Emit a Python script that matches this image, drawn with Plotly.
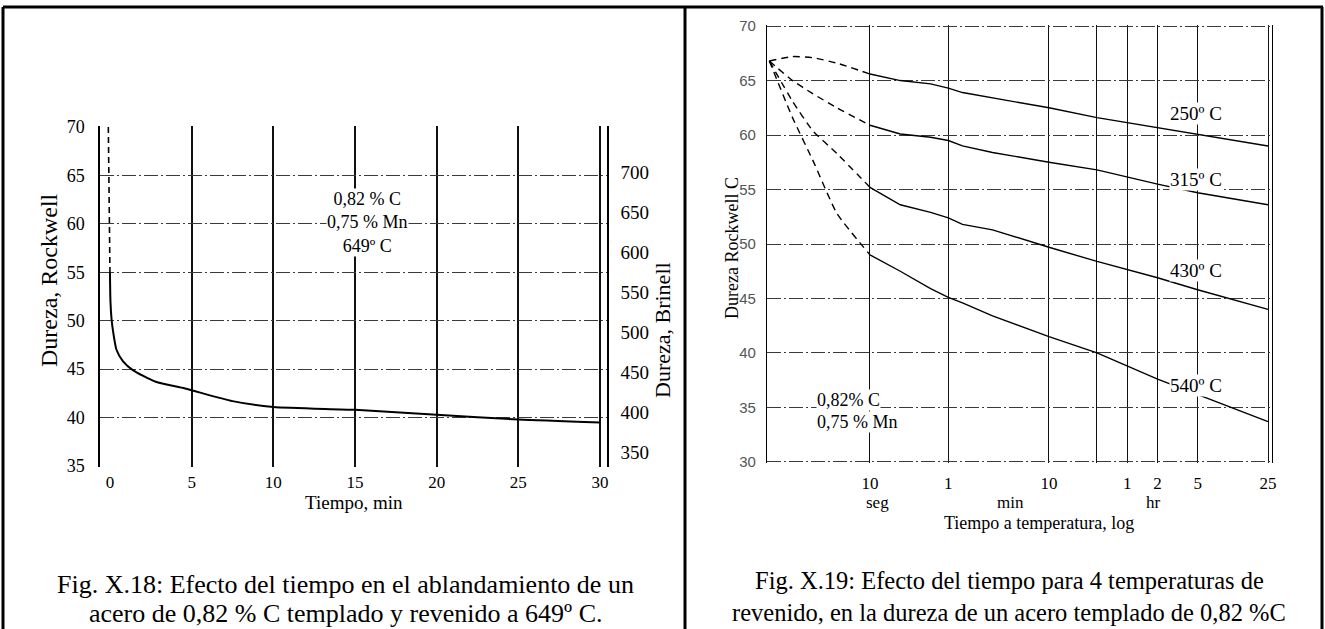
import plotly.graph_objects as go

W, H = 1325, 629

# ---- Fig. X.18: ablandamiento a 649 C ----
t_min_dash = [-0.1, 0.0]
hrc_dash = [70.0, 55.0]
t_min = [0.0, 0.03, 0.1, 0.2, 0.4, 0.8, 1.4, 2.8, 4.6, 7.5, 10.0, 15.0, 20.0, 25.0, 30.0]
hrc_649 = [55.0, 52.0, 50.1, 48.8, 47.0, 45.8, 44.9, 43.7, 43.0, 41.7, 41.1, 40.8, 40.3, 39.8, 39.5]
min_ticks = [0, 5, 10, 15, 20, 25, 30]
rockwell_ticks = [35, 40, 45, 50, 55, 60, 65, 70]
brinell_ticks = [350, 400, 450, 500, 550, 600, 650, 700]

# ---- Fig. X.19: 4 temperaturas de revenido (tiempo en segundos) ----
t_quench = [1, 1.7, 2.7, 4.7, 10]
q_250 = [66.8, 67.2, 67.1, 66.6, 65.6]
q_315 = [66.8, 65.0, 63.8, 62.5, 60.9]
q_430 = [66.8, 63.1, 60.4, 58.3, 55.2]
q_540 = [66.8, 61.6, 57.7, 52.8, 49.0]

t_seg = [10, 20, 40, 60, 83, 165, 600, 1800, 7200, 18000, 90000]
h_250 = [65.6, 65.0, 64.7, 64.3, 63.9, 63.4, 62.5, 61.6, 60.7, 60.1, 59.0]
h_315 = [60.9, 60.1, 59.8, 59.5, 59.0, 58.4, 57.5, 56.8, 55.5, 54.7, 53.6]
h_430 = [55.2, 53.6, 52.9, 52.4, 51.8, 51.3, 49.7, 48.4, 46.9, 45.8, 44.0]
h_540 = [49.0, 47.5, 45.9, 45.1, 44.6, 43.4, 41.5, 40.0, 37.6, 36.2, 33.7]

temp_labels = ["250º C", "315º C", "430º C", "540º C"]
log_tickvals = [10, 60, 600, 1800, 3600, 7200, 18000, 90000]
log_ticktext = ["10", "1", "10", "", "1", "2", "5", "25"]
hrc_ticks = [30, 35, 40, 45, 50, 55, 60, 65, 70]

SERIF = "Liberation Serif, Times New Roman, serif"


def px(x):
    return x / W


def py(y):
    return 1 - y / H


fig = go.Figure()

# left chart
fig.add_trace(go.Scatter(x=t_min_dash, y=hrc_dash, mode="lines",
                         line=dict(color="black", width=1.6, dash="6px,4px"),
                         xaxis="x", yaxis="y", hoverinfo="skip"))
fig.add_trace(go.Scatter(x=t_min, y=hrc_649, mode="lines",
                         line=dict(color="black", width=2, shape="spline", smoothing=0.6),
                         xaxis="x", yaxis="y"))
fig.add_trace(go.Scatter(x=[None], y=[None], xaxis="x", yaxis="y2", hoverinfo="skip"))

# right chart
for q, h in [(q_250, h_250), (q_315, h_315), (q_430, h_430), (q_540, h_540)]:
    fig.add_trace(go.Scatter(x=t_quench, y=q, mode="lines",
                             line=dict(color="black", width=1.4, dash="7px,5px",
                                       shape="spline", smoothing=0.5),
                             xaxis="x2", yaxis="y3"))
    fig.add_trace(go.Scatter(x=t_seg, y=h, mode="lines",
                             line=dict(color="black", width=1.4),
                             xaxis="x2", yaxis="y3"))

tick_serif = dict(family=SERIF, size=18, color="black")
hgrid = dict(showgrid=True, gridcolor="#3a3a3a", gridwidth=1.2, griddash="14px,3px,2px,3px")

fig.update_layout(
    width=W, height=H,
    margin=dict(l=0, r=0, t=0, b=0, autoexpand=False),
    paper_bgcolor="white", plot_bgcolor="white",
    showlegend=False,
    font=dict(family=SERIF, color="black"),
    xaxis=dict(domain=[px(100), px(607)], range=[-0.61, 30.43], anchor="y", automargin=False,
               tickvals=min_ticks, showgrid=False, zeroline=False, showline=False,
               ticks="", tickfont=dict(family=SERIF, size=17, color="black"),
               ticklabelstandoff=3,
               minor=dict(tickvals=min_ticks[1:], showgrid=True,
                          gridcolor="#111111", gridwidth=1.5)),
    yaxis=dict(domain=[py(467), py(126)], range=[34.9, 70.1], anchor="x", automargin=False,
               tickvals=rockwell_ticks, zeroline=False, showline=True,
               linecolor="black", linewidth=1.5, ticks="", tickfont=tick_serif,
               ticklabelstandoff=10, **hgrid),
    yaxis2=dict(overlaying="y", side="right", anchor="x", range=[331.2, 757.5], automargin=False,
                tickvals=brinell_ticks, showgrid=False, zeroline=False, showline=True,
                linecolor="black", linewidth=1.5, ticks="",
                tickfont=dict(family=SERIF, size=19, color="black"), ticklabelstandoff=8),
    xaxis2=dict(type="log", domain=[px(767), px(1272)], range=[-0.023, 4.994], anchor="y3",
                automargin=False,
                tickvals=log_tickvals, ticktext=log_ticktext, showgrid=True,
                gridcolor="#111111", gridwidth=1.3, zeroline=False, showline=False,
                ticks="", tickfont=dict(family=SERIF, size=17, color="black"),
                ticklabelstandoff=8),
    yaxis3=dict(domain=[py(463), py(25)], range=[29.9, 70.1], anchor="x2", automargin=False,
                tickvals=hrc_ticks, zeroline=False, showline=True, mirror=True,
                linecolor="black", linewidth=1.3, ticks="",
                tickfont=dict(family="Liberation Sans, Arial, sans-serif", size=15, color="#555555"),
                ticklabelstandoff=7, **hgrid),
)

ann = []


def note(x, y, text, size, angle=0, bg=None, xanchor="center"):
    a = dict(x=px(x), y=py(y), xref="paper", yref="paper", text=text, showarrow=False,
             xanchor=xanchor, yanchor="middle", textangle=angle,
             font=dict(family=SERIF, size=size, color="black"))
    if bg:
        a.update(bgcolor=bg, borderpad=0)
    ann.append(a)


# left chart texts
note(49, 280, "Dureza, Rockwell", 24, angle=-90)
note(662, 330, "Dureza, Brinell", 22, angle=-90)
note(354, 502, "Tiempo, min", 19)
note(367, 222, "0,82 % C<br>0,75 % Mn<br>649º C", 18, bg="white")
note(345, 584, "Fig. X.18: Efecto del tiempo en el ablandamiento de un", 26)
note(345, 613, "acero de 0,82 % C templado y revenido a 649º C.", 26)

# right chart texts
note(732, 248, "Dureza Rockwell C", 18, angle=-90)
for lbl, yy in zip(temp_labels, [113, 180, 270, 385]):
    note(1196, yy, lbl, 19, bg="white")
note(816, 400, "0,82% C", 18, bg="white", xanchor="left")
note(816, 422, "0,75 % Mn", 18, bg="white", xanchor="left")
note(877, 502, "seg", 17)
note(1010, 502, "min", 17)
note(1153, 502, "hr", 17)
note(1039, 523, "Tiempo a temperatura, log", 18)
note(1009, 580, "Fig. X.19: Efecto del tiempo para 4 temperaturas de", 24.5)
note(1009, 612, "revenido, en la dureza de un acero templado de 0,82 %C", 24.5)

fig.update_layout(annotations=ann)

# page frame around both figures
frame = dict(color="black", width=3)
shapes = [
    dict(type="line", xref="paper", yref="paper", x0=px(3), x1=px(1323), y0=py(7), y1=py(7), line=frame),
    dict(type="line", xref="paper", yref="paper", x0=px(3), x1=px(3), y0=py(7), y1=0, line=frame),
    dict(type="line", xref="paper", yref="paper", x0=px(685), x1=px(685), y0=py(7), y1=0, line=frame),
    dict(type="line", xref="paper", yref="paper", x0=px(1322), x1=px(1322), y0=py(7), y1=0, line=frame),
]
fig.update_layout(shapes=shapes)

fig.write_html("out.html", config={"displayModeBar": False},
               post_script="document.body.style.margin='0';document.body.style.overflow='hidden';")
